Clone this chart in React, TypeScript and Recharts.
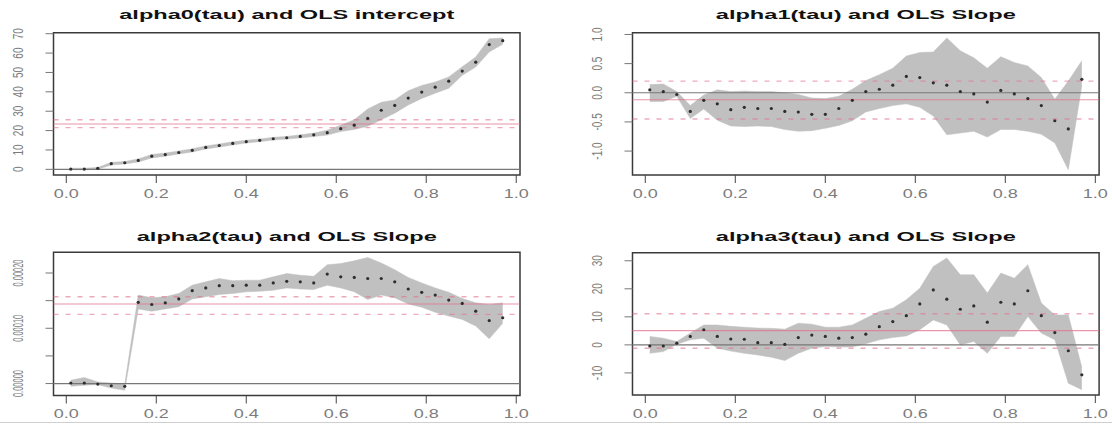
import React from "react";
import {
  Area,
  ComposedChart,
  Line,
  ReferenceArea,
  ReferenceLine,
  XAxis,
  YAxis,
} from "recharts";

const FONT = "'Liberation Sans', Arial, Helvetica, sans-serif";

// quantiles used in the rq fits
const taus = [
  0.01, 0.04, 0.07, 0.1, 0.13, 0.16, 0.19, 0.22, 0.25, 0.28, 0.31, 0.34, 0.37,
  0.4, 0.43, 0.46, 0.49, 0.52, 0.55, 0.58, 0.61, 0.64, 0.67, 0.7, 0.73, 0.76,
  0.79, 0.82, 0.85, 0.88, 0.91, 0.94, 0.97,
];

// alpha0 (intercept)
const alpha0 = [
  0.15, 0.15, 0.5, 2.9, 3.4, 4.6, 6.8, 7.6, 8.7, 9.8, 11.3, 12.3, 13.4, 14.3,
  15.0, 15.8, 16.3, 17.0, 17.8, 18.9, 21.0, 22.8, 26.3, 30.5, 33.0, 36.8, 39.9,
  42.4, 45.5, 50.7, 55.3, 64.4, 66.4,
];
const alpha0Lo = [
  -0.2, -0.2, 0.1, 2.2, 2.8, 3.8, 5.9, 6.8, 7.9, 9.0, 10.5, 11.5, 12.6, 13.6,
  14.3, 15.1, 15.6, 16.2, 16.9, 17.7, 19.5, 20.6, 22.2, 25.6, 29.0, 33.2, 36.6,
  39.3, 41.8, 48.5, 52.8, 60.6, 64.6,
];
const alpha0Hi = [
  0.6, 0.6, 1.0, 3.6, 4.0, 5.4, 7.7, 8.4, 9.5, 10.6, 12.1, 13.1, 14.2, 15.0,
  15.7, 16.5, 17.0, 17.8, 18.7, 20.2, 22.8, 25.6, 31.2, 34.6, 35.8, 40.6, 43.3,
  45.1, 47.7, 52.9, 58.0, 67.4, 67.8,
];
const alpha0Ols = [21.5, 23.4, 25.6]; // lower, estimate, upper

// alpha1
const alpha1 = [
  0.05, 0.02, -0.03, -0.32, -0.13, -0.19, -0.29, -0.25, -0.27, -0.27, -0.32,
  -0.33, -0.37, -0.37, -0.27, -0.13, 0.02, 0.06, 0.13, 0.28, 0.26, 0.17, 0.13,
  0.02, -0.02, -0.16, 0.04, -0.02, -0.1, -0.22, -0.48, -0.62, 0.23,
];
const alpha1Lo = [
  -0.15, -0.15, -0.06, -0.44, -0.28, -0.47, -0.57, -0.58, -0.57, -0.58, -0.63,
  -0.66, -0.65, -0.61, -0.56, -0.48, -0.33, -0.27, -0.22, -0.19, -0.25, -0.4,
  -0.72, -0.69, -0.66, -0.76, -0.63, -0.63, -0.66, -0.71, -0.86, -1.32, 0.12,
];
const alpha1Hi = [
  0.14, 0.15, 0.02, -0.22, -0.04, 0.05, 0.02, 0.03, 0.02, 0.02, 0.0, -0.03,
  -0.09, -0.1, -0.06, 0.06, 0.21, 0.31, 0.42, 0.63, 0.69, 0.7, 0.94, 0.72, 0.6,
  0.42, 0.62, 0.52, 0.46, 0.26, -0.11, 0.2, 0.55,
];
const alpha1Ols = [-0.45, -0.12, 0.2];

// alpha2
const alpha2 = [
  0.1e-5, 0.1e-5, -0.1e-5, -0.4e-5, -0.5e-5, 14.7e-5, 14.3e-5, 14.6e-5,
  15.3e-5, 16.8e-5, 17.3e-5, 17.7e-5, 17.7e-5, 17.8e-5, 17.8e-5, 18.2e-5,
  18.5e-5, 18.4e-5, 18.2e-5, 19.8e-5, 19.3e-5, 19.2e-5, 19.0e-5, 19.0e-5,
  18.4e-5, 17.1e-5, 16.5e-5, 16.0e-5, 15.1e-5, 14.5e-5, 13.1e-5, 11.4e-5,
  11.9e-5,
];
const alpha2Lo = [
  -0.5e-5, -0.3e-5, -0.2e-5, -0.8e-5, -1.2e-5, 13.5e-5, 13.1e-5, 13.5e-5,
  13.9e-5, 15.3e-5, 15.7e-5, 16.1e-5, 16.3e-5, 16.6e-5, 16.7e-5, 16.9e-5,
  17.3e-5, 17.1e-5, 17.0e-5, 17.8e-5, 17.3e-5, 16.6e-5, 15.2e-5, 16.0e-5,
  15.5e-5, 14.4e-5, 13.8e-5, 12.9e-5, 12.2e-5, 11.6e-5, 10.4e-5, 8.1e-5,
  10.9e-5,
];
const alpha2Hi = [
  0.6e-5, 1.1e-5, 0.3e-5, 0.1e-5, -0.1e-5, 16.0e-5, 15.5e-5, 15.7e-5, 16.3e-5,
  17.8e-5, 18.4e-5, 19.0e-5, 18.6e-5, 18.7e-5, 18.7e-5, 19.3e-5, 19.9e-5,
  19.6e-5, 19.4e-5, 21.5e-5, 21.7e-5, 22.2e-5, 22.8e-5, 21.8e-5, 20.6e-5,
  19.2e-5, 18.2e-5, 17.3e-5, 16.5e-5, 15.4e-5, 14.6e-5, 14.3e-5, 14.6e-5,
];
const alpha2Ols = [12.5e-5, 14.4e-5, 15.7e-5];

// alpha3
const alpha3 = [
  -0.4, -0.4, 0.6, 3.0, 5.4, 3.0, 2.1, 2.0, 0.8, 0.8, 0.2, 2.6, 3.5, 3.0, 2.4,
  2.6, 3.8, 6.5, 8.3, 10.4, 14.6, 19.6, 16.3, 12.7, 13.9, 8.1, 15.2, 14.6, 19.3,
  10.4, 4.4, -2.1, -10.7,
];
const alpha3Lo = [
  -3.0, -2.4, 0.2, 1.8, 2.4, -1.2, -2.2, -3.0, -3.6, -4.4, -5.6, -3.0, -1.2,
  -0.6, -0.8, -0.8, 0.4, 1.8, 2.6, 3.2, 5.4, 8.9, 7.1, 0.0, 1.2, -3.0, 3.0, 3.0,
  10.1, 4.2, 1.8, -13.7, -16.0,
];
const alpha3Hi = [
  3.0, 2.4, 1.2, 4.2, 7.1, 7.1, 6.6, 6.3, 6.0, 5.9, 5.6, 7.7, 7.4, 6.3, 6.3,
  7.1, 9.5, 11.9, 13.1, 16.1, 20.2, 28.0, 31.0, 25.0, 25.0, 18.5, 25.6, 23.8,
  28.6, 14.9, 10.7, 10.7, -8.0,
];
const alpha3Ols = [-1.2, 5.1, 11.1];

const xTicks = [0, 0.2, 0.4, 0.6, 0.8, 1];
const xTickLabels = ["0.0", "0.2", "0.4", "0.6", "0.8", "1.0"];

const alpha0Ticks = [0, 10, 20, 30, 40, 50, 60, 70];
const alpha0TickLabels = ["0", "10", "20", "30", "40", "50", "60", "70"];
const alpha1Ticks = [-1, -0.5, 0, 0.5, 1];
const alpha1TickLabels = ["-1.0", "-0.5", "0.0", "0.5", "1.0"];
const alpha2Ticks = [0, 5e-5, 10e-5, 15e-5, 20e-5];
const alpha2TickLabels = ["0.00000", "", "0.00010", "", "0.00020"];
const alpha3Ticks = [-10, 0, 10, 20, 30];
const alpha3TickLabels = ["-10", "0", "10", "20", "30"];

const titles = [
  "alpha0(tau) and OLS intercept",
  "alpha1(tau) and OLS Slope",
  "alpha2(tau) and OLS Slope",
  "alpha3(tau) and OLS Slope",
];

const CELL_W = 556;
const CELL_H = 212;
const Y_AXIS_W = 45;
const X_AXIS_H = 25;

type Box = { x0: number; x1: number; y0: number; y1: number };

type PanelProps = {
  left: number;
  top: number;
  box: Box;
  coef: number[];
  lo: number[];
  hi: number[];
  ols: number[];
  yTicks: number[];
  yLabels: string[];
  yLabelLen?: number;
};

const XTick = (p: any) => {
  const i = xTicks.indexOf(p.payload.value);
  return (
    <text
      x={p.x}
      y={p.y}
      dy="0.71em"
      textAnchor="middle"
      fontSize={12}
      fontFamily={FONT}
      fill="#7c7c7c"
      textLength={25}
      lengthAdjust="spacingAndGlyphs"
    >
      {xTickLabels[i]}
    </text>
  );
};

function Panel({
  left,
  top,
  box,
  coef,
  lo,
  hi,
  ols,
  yTicks,
  yLabels,
  yLabelLen,
}: PanelProps) {
  const rows = taus.map((tau, i) => ({
    tau,
    coef: coef[i],
    band: [lo[i], hi[i]],
  }));

  // R style 4% padding around the data range
  const xr = taus[taus.length - 1] - taus[0];
  const xDomain = [taus[0] - 0.04 * xr, taus[taus.length - 1] + 0.04 * xr];
  const ymin = Math.min(...lo, ...coef);
  const ymax = Math.max(...hi, ...coef);
  const yr = ymax - ymin;
  const yDomain = [ymin - 0.04 * yr, ymax + 0.04 * yr];

  const margin = {
    left: box.x0 - left - Y_AXIS_W,
    right: left + CELL_W - box.x1,
    top: box.y0 - top,
    bottom: top + CELL_H - box.y1 - X_AXIS_H,
  };

  const YTick = (p: any) => {
    const i = yTicks.indexOf(p.payload.value);
    const label = yLabels[i];
    if (!label) return <g />;
    return (
      <g transform={`translate(${p.x},${p.y}) scale(1.5,1) rotate(-90)`}>
        <text
          x={0}
          y={0}
          textAnchor="middle"
          fontSize={yLabelLen ? 9.5 : 10}
          fontFamily={FONT}
          fill="#7c7c7c"
          textLength={yLabelLen}
          lengthAdjust={yLabelLen ? "spacingAndGlyphs" : undefined}
        >
          {label}
        </text>
      </g>
    );
  };

  const red = "#e2718d";

  return (
    <div style={{ position: "absolute", left, top }}>
      <ComposedChart
        width={CELL_W}
        height={CELL_H}
        data={rows}
        margin={margin}
        style={{ overflow: "visible" }}
      >
        <XAxis
          dataKey="tau"
          type="number"
          domain={xDomain}
          ticks={xTicks}
          allowDataOverflow
          axisLine={false}
          tickSize={8}
          tickMargin={6}
          tickLine={{ stroke: "#444" }}
          tick={<XTick />}
          height={X_AXIS_H}
          interval={0}
        />
        <YAxis
          type="number"
          domain={yDomain}
          ticks={yTicks}
          allowDataOverflow
          axisLine={false}
          tickSize={8}
          tickMargin={23}
          tickLine={{ stroke: "#777" }}
          tick={<YTick />}
          width={Y_AXIS_W}
          interval={0}
        />
        <Area
          dataKey="band"
          type="linear"
          fill="#c0c0c0"
          fillOpacity={1}
          stroke="#c0c0c0"
          strokeWidth={0.5}
          isAnimationActive={false}
        />
        <ReferenceLine y={0} stroke="#777" strokeWidth={1.2} />
        <ReferenceLine y={ols[1]} stroke={red} strokeWidth={1.1} strokeOpacity={0.75} />
        <ReferenceLine
          y={ols[0]}
          stroke={red}
          strokeWidth={1.3}
          strokeOpacity={0.6}
          strokeDasharray="5 7"
        />
        <ReferenceLine
          y={ols[2]}
          stroke={red}
          strokeWidth={1.3}
          strokeOpacity={0.6}
          strokeDasharray="5 7"
        />
        <Line
          dataKey="coef"
          stroke="none"
          dot={{ r: 1.6, fill: "#2e2e2e", stroke: "none", strokeWidth: 0 }}
          isAnimationActive={false}
        />
        <ReferenceArea
          x1={xDomain[0]}
          x2={xDomain[1]}
          y1={yDomain[0]}
          y2={yDomain[1]}
          fill="none"
          fillOpacity={0}
          stroke="#3a3a3a"
          strokeWidth={1.5}
        />
      </ComposedChart>
    </div>
  );
}

const boxes: Box[] = [
  { x0: 53.5, x1: 520, y0: 32.7, y1: 175 },
  { x0: 632.5, x1: 1099.1, y0: 32.7, y1: 175 },
  { x0: 53.5, x1: 520, y0: 252.2, y1: 395.5 },
  { x0: 632.5, x1: 1099.1, y0: 252.7, y1: 395 },
];

const titleLens = [335, 300, 300, 300];
const titleBaselines = [18.5, 18.5, 240.5, 240.5];

export default function App() {
  return (
    <div
      style={{
        position: "absolute",
        left: 0,
        top: 0,
        width: 1112,
        height: 424,
        background: "#fff",
        overflow: "hidden",
      }}
    >
      <Panel
        left={0}
        top={0}
        box={boxes[0]}
        coef={alpha0}
        lo={alpha0Lo}
        hi={alpha0Hi}
        ols={alpha0Ols}
        yTicks={alpha0Ticks}
        yLabels={alpha0TickLabels}
      />
      <Panel
        left={CELL_W}
        top={0}
        box={boxes[1]}
        coef={alpha1}
        lo={alpha1Lo}
        hi={alpha1Hi}
        ols={alpha1Ols}
        yTicks={alpha1Ticks}
        yLabels={alpha1TickLabels}
      />
      <Panel
        left={0}
        top={CELL_H}
        box={boxes[2]}
        coef={alpha2}
        lo={alpha2Lo}
        hi={alpha2Hi}
        ols={alpha2Ols}
        yTicks={alpha2Ticks}
        yLabels={alpha2TickLabels}
        yLabelLen={27}
      />
      <Panel
        left={CELL_W}
        top={CELL_H}
        box={boxes[3]}
        coef={alpha3}
        lo={alpha3Lo}
        hi={alpha3Hi}
        ols={alpha3Ols}
        yTicks={alpha3Ticks}
        yLabels={alpha3TickLabels}
      />
      <svg
        width={1112}
        height={424}
        style={{ position: "absolute", left: 0, top: 0, pointerEvents: "none" }}
      >
        {titles.map((t, i) => (
          <text
            key={t}
            x={(boxes[i].x0 + boxes[i].x1) / 2}
            y={titleBaselines[i]}
            textAnchor="middle"
            fontSize={12.5}
            fontWeight="bold"
            fontFamily={FONT}
            fill="#111"
            textLength={titleLens[i]}
            lengthAdjust="spacingAndGlyphs"
          >
            {t}
          </text>
        ))}
        <line x1={0} x2={1112} y1={422.5} y2={422.5} stroke="#cfcfcf" />
      </svg>
    </div>
  );
}
